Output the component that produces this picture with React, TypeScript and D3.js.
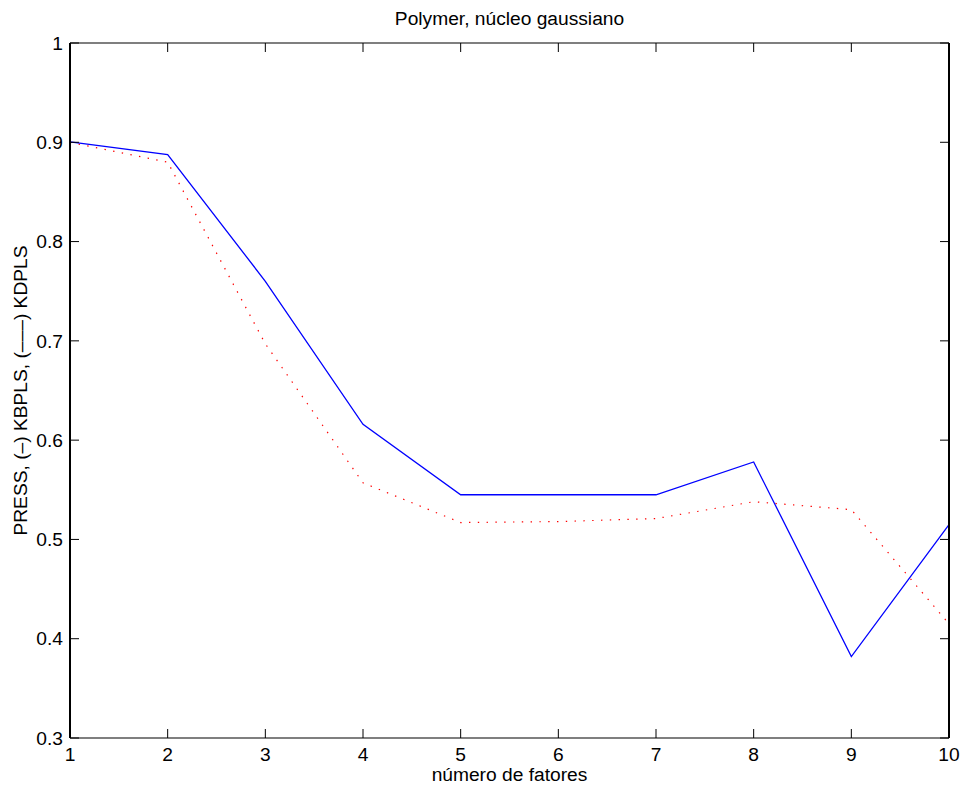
import React from "react";
import * as d3 from "d3";

const factors = [1, 2, 3, 4, 5, 6, 7, 8, 9, 10];
const kbpls = [0.9005, 0.8877, 0.76, 0.616, 0.545, 0.545, 0.545, 0.578, 0.382, 0.515];
const kdpls = [0.9, 0.88, 0.697, 0.557, 0.517, 0.518, 0.521, 0.538, 0.53, 0.415];
const xTicks = [1, 2, 3, 4, 5, 6, 7, 8, 9, 10];
const yTicks = [0.3, 0.4, 0.5, 0.6, 0.7, 0.8, 0.9, 1];
const title = "Polymer, núcleo gaussiano";
const xLabel = "número de fatores";
const yLabel = "PRESS, (–) KBPLS, (–––) KDPLS";

const W = 963;
const H = 787;
const L = 70, R = 949, T = 43, B = 738;
const FONT = "'Liberation Sans', Arial, Helvetica, sans-serif";
const FS = 19.2;

export default function App() {
  const x = d3.scaleLinear().domain([1, 10]).range([L, R]);
  const y = d3.scaleLinear().domain([0.3, 1]).range([B, T]);
  const line = d3
    .line<number>()
    .x((_, i) => x(factors[i]))
    .y((d) => y(d));
  const tickLen = 9;
  return (
    <svg
      width={W}
      height={H}
      style={{ position: "absolute", left: 0, top: 0, background: "#fff" }}
      fontFamily={FONT}
    >
      <rect x={0} y={0} width={W} height={H} fill="#fff" />
      <path d={line(kdpls) || ""} fill="none" stroke="#ff0000" strokeWidth={1.2} strokeDasharray="1.4 7.4" />
      <path d={line(kbpls) || ""} fill="none" stroke="#0000ff" strokeWidth={1.3} />
      {/* box */}
      <line x1={L} x2={R} y1={T} y2={T} stroke="#000" strokeWidth={1.2} />
      <line x1={L} x2={R} y1={B} y2={B} stroke="#000" strokeWidth={1.2} />
      <line x1={L} x2={L} y1={T} y2={B} stroke="#000" strokeWidth={2} />
      <line x1={R} x2={R} y1={T} y2={B} stroke="#000" strokeWidth={2} />
      {xTicks.map((t) => (
        <g key={"x" + t}>
          <line x1={x(t)} x2={x(t)} y1={B} y2={B - tickLen} stroke="#000" strokeWidth={1} />
          <line x1={x(t)} x2={x(t)} y1={T} y2={T + tickLen} stroke="#000" strokeWidth={1} />
          <text x={x(t)} y={761} textAnchor="middle" fontSize={FS} fill="#000">
            {t}
          </text>
        </g>
      ))}
      {yTicks.map((t) => (
        <g key={"y" + t}>
          <line x1={L} x2={L + tickLen} y1={y(t)} y2={y(t)} stroke="#000" strokeWidth={1} />
          <line x1={R} x2={R - tickLen} y1={y(t)} y2={y(t)} stroke="#000" strokeWidth={1} />
          <text x={63} y={y(t)} dy="0.35em" textAnchor="end" fontSize={FS} fill="#000">
            {d3.format("")(t)}
          </text>
        </g>
      ))}
      <text x={(L + R) / 2} y={25} textAnchor="middle" fontSize={FS} fill="#000">
        {title}
      </text>
      <text x={(L + R) / 2} y={781} textAnchor="middle" fontSize={FS} fill="#000">
        {xLabel}
      </text>
      <text
        transform={`translate(27, ${(T + B) / 2}) rotate(-90)`}
        textAnchor="middle"
        fontSize={FS}
        fill="#000"
      >
        {yLabel}
      </text>
    </svg>
  );
}
